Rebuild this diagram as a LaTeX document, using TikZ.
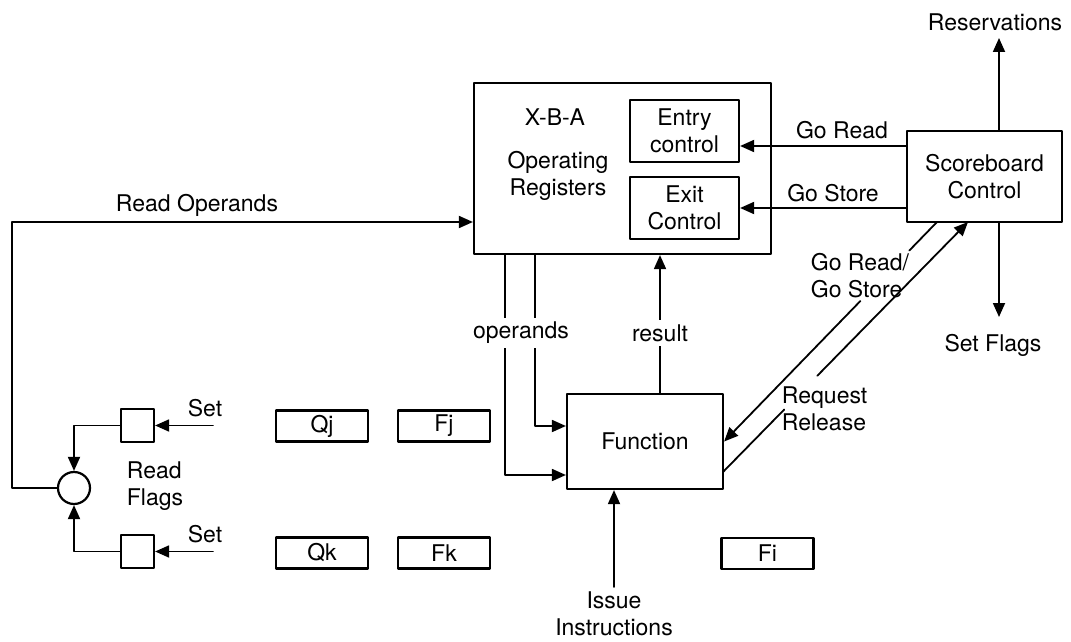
\documentclass[tikz,border=0pt]{standalone}
\usepackage{fontspec}
\setmainfont{TeX Gyre Heros}
\usepackage{tikz}
\usetikzlibrary{arrows.meta,calc}

\begin{document}
\begin{tikzpicture}[line cap=round,line join=round,>={Triangle[length=7pt,width=6pt]},x=0.5pt,y=-0.5pt,line width=0.9pt,
  every node/.style={font=\fontsize{11.5}{13.5}\selectfont,align=center},
  blk/.style={draw,line width=1.1pt,inner sep=0pt},
  reg/.style={blk,minimum width=46pt,minimum height=15.5pt},
  gap/.style={fill=white,inner sep=2pt}]
\useasboundingbox (0,0) rectangle (1071,642);
% boxes
\node[blk,minimum width=148.5pt,minimum height=85.5pt] (opreg) at (622.5,168.5) {};
\node[blk,minimum width=54.5pt,minimum height=31pt] (entry) at (684.5,131) {Entry\\ control};
\node[blk,minimum width=54.5pt,minimum height=31pt] (exit) at (684.5,208) {Exit\\ Control};
\node[blk,minimum width=77.5pt,minimum height=45.5pt] (sb) at (984.5,176.5) {Scoreboard\\ Control};
\node[blk,minimum width=78pt,minimum height=47.5pt] (fn) at (645,441.5) {Function};
\node[reg] (qj) at (322,426) {Qj};
\node[reg] (fj) at (444,426) {Fj};
\node[reg] (qk) at (322,553) {Qk};
\node[reg] (fk) at (444,553) {Fk};
\node[reg] (fi) at (767.5,553.5) {Fi};
\node[blk,minimum size=16.5pt] (sq1) at (137.5,425.5) {};
\node[blk,minimum size=16.5pt] (sq2) at (137.5,551.5) {};
\node[blk,circle,minimum size=16pt] (circ) at (74,488) {};
% texts
\node (xba) at (555,117) {X-B-A};
\node (opregtxt) at (558,176) {Operating\\ Registers};
\node (resv) at (995,22) {Reservations};
\node (setflags) at (993,345) {Set Flags};
\node (goread) at (842,130) {Go Read};
\node (gostore) at (833,193) {Go Store};
\node[align=left,anchor=west,inner sep=0pt] (grgs) at (810,276) {Go Read/\\ Go Store};
\node[align=left,anchor=west,inner sep=0pt] (reqrel) at (781,409) {Request\\ Release};
\node (readop) at (197,205) {Read Operands};
\node (set1) at (205,408) {Set};
\node (set2) at (205,534) {Set};
\node[align=left,anchor=west,inner sep=0pt] (rflags) at (126,486) {Read\\ Flags};
\node (issue) at (614,614) {Issue\\ Instructions};
% free ends
\coordinate (gr) at (0,146);
\coordinate (ro) at (12,222);
\coordinate (op1) at (505,475);
\coordinate (op2) at (535,426);
\coordinate (res) at (660,333);
\coordinate (rs) at (999,38);
\coordinate (sf) at (999,317);
\coordinate (s1) at (213,425.5);
\coordinate (s2) at (213,551.5);
\coordinate (iss) at (614,587);
\coordinate (d1) at (937,222);
\coordinate (d2) at (723,472);
\coordinate (d2e) at (968,222);
% connectors
\draw[->] (sb.west |- gr) -- (entry.east |- gr);
\draw[->] (sb.west |- exit.east) -- (exit.east);
\draw[->] (sb.north -| rs) -- (rs);
\draw[->] (sb.south -| sf) -- (sf);
\draw[->] (circ.west) -| (ro) -- (opreg.west |- ro);
\draw[->] (opreg.south -| op1) -- (op1) -- (fn.west |- op1);
\draw[->] (opreg.south -| op2) -- (op2) -- (fn.west |- op2);
\draw[->] (fn.north -| res) -- (opreg.south -| res);
\node[gap] (operands) at (521,333) {operands};
\node[gap] (result) at (res) {result};
\draw (d1) -- ($(d1)!0.13!(fn.east)$);
\draw[->] ($(d1)!0.36!(fn.east)$) -- (fn.east);
\draw (d2) -- ($(d2)!0.25!(d2e)$);
\draw[->] ($(d2)!0.385!(d2e)$) -- (d2e);
\draw[->] (s1) -- (sq1.east);
\draw[->] (s2) -- (sq2.east);
\draw[->] (sq1.west) -| (circ.north);
\draw[->] (sq2.west) -| (circ.south);
\draw[->] (iss) -- (fn.south -| iss);

\end{tikzpicture}
\end{document}
